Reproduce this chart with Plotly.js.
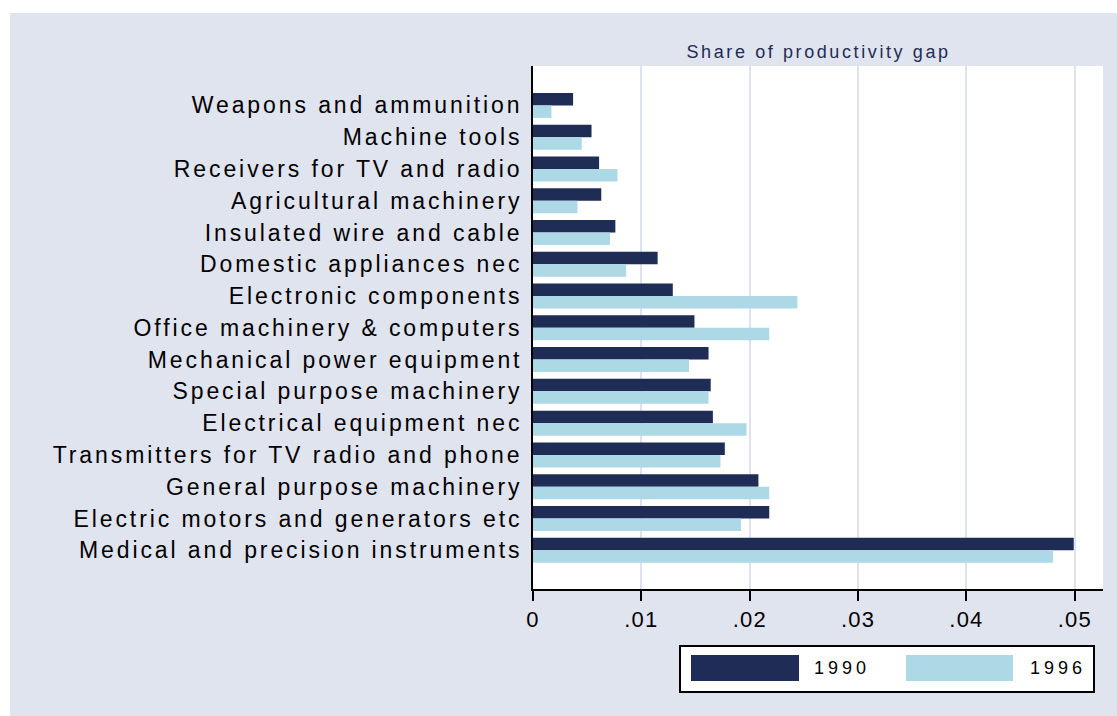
<!DOCTYPE html>
<html>
<head>
<meta charset="utf-8">
<script src="https://cdn.plot.ly/plotly-3.0.1.min.js"></script>
<style>
  html, body { margin: 0; padding: 0; background: #ffffff; }
  #chart { position: absolute; left: 10px; top: 13px; width: 1107px; height: 703px; }
  #chart .ytick text { letter-spacing: 2.9px; }
  #chart .xtick text { letter-spacing: 1.2px; }
  #chart .annotation[data-index="0"] text { letter-spacing: 2.6px; }
  #chart .annotation[data-index="1"] text,
  #chart .annotation[data-index="2"] text { letter-spacing: 4px; }
</style>
</head>
<body>
<div id="chart"></div>
<script>
// ---- data ----
const categories = [
  "Weapons and ammunition",
  "Machine tools",
  "Receivers for TV and radio",
  "Agricultural machinery",
  "Insulated wire and cable",
  "Domestic appliances nec",
  "Electronic components",
  "Office machinery & computers",
  "Mechanical power equipment",
  "Special purpose machinery",
  "Electrical equipment nec",
  "Transmitters for TV radio and phone",
  "General purpose machinery",
  "Electric motors and generators etc",
  "Medical and precision instruments"
];
const values1990 = [0.0037, 0.0054, 0.0061, 0.0063, 0.0076, 0.0115, 0.0129, 0.0149, 0.0162, 0.0164, 0.0166, 0.0177, 0.0208, 0.0218, 0.0499];
const values1996 = [0.0017, 0.0045, 0.0078, 0.0041, 0.0071, 0.0086, 0.0244, 0.0218, 0.0144, 0.0162, 0.0197, 0.0173, 0.0218, 0.0192, 0.0480];
const seriesNames = ["1990", "1996"];
const xTickVals = [0, 0.01, 0.02, 0.03, 0.04, 0.05];
const xTickText = ["0", ".01", ".02", ".03", ".04", ".05"];
const axisTitle = "Share of productivity gap";

// ---- style ----
const NAVY = "#1f2c55";
const LIGHT = "#add8e6";
const BG = "#e0e4ef";
const GRID = "#dde2ee";
const FONT = "Liberation Sans, Arial, Helvetica, sans-serif";

const traces = [
  { type: "bar", orientation: "h", name: seriesNames[0], y: categories, x: values1990,
    marker: { color: NAVY, line: { width: 0 } }, hoverinfo: "x+y" },
  { type: "bar", orientation: "h", name: seriesNames[1], y: categories, x: values1996,
    marker: { color: LIGHT, line: { width: 0 } }, hoverinfo: "x+y" }
];

const layout = {
  width: 1107, height: 703,
  margin: { l: 523, r: 14, t: 53, b: 127, pad: 0 },
  paper_bgcolor: BG,
  plot_bgcolor: "#ffffff",
  showlegend: false,
  barmode: "group",
  bargap: 0.213,
  bargroupgap: 0,
  font: { family: FONT, color: "#000000" },
  xaxis: {
    range: [0, 0.0526],
    tickvals: xTickVals, ticktext: xTickText,
    ticks: "outside", ticklen: 10, tickwidth: 2, tickcolor: "#000000",
    tickfont: { size: 22, family: FONT, color: "#000000" },
    showgrid: true, gridcolor: GRID, gridwidth: 2,
    zeroline: false,
    showline: true, linecolor: "#000000", linewidth: 2,
    mirror: false, fixedrange: true
  },
  yaxis: {
    type: "category",
    range: [15.22, -1.24],
    ticks: "", showgrid: false, zeroline: false,
    showline: true, linecolor: "#000000", linewidth: 2,
    ticklabelstandoff: 4,
    tickfont: { size: 23, family: FONT, color: "#000000" },
    fixedrange: true
  },
  annotations: [
    { xref: "paper", yref: "paper", x: 0.5, y: 1.0268, xanchor: "center", yanchor: "middle",
      text: axisTitle, showarrow: false, font: { size: 18, family: FONT, color: NAVY } },
    { xref: "paper", yref: "paper", x: 0.5035, y: -0.1511, xanchor: "left", yanchor: "middle",
      text: seriesNames[0], showarrow: false, font: { size: 18, family: FONT, color: "#000000" } },
    { xref: "paper", yref: "paper", x: 0.8825, y: -0.1511, xanchor: "left", yanchor: "middle",
      text: seriesNames[1], showarrow: false, font: { size: 18, family: FONT, color: "#000000" } }
  ],
  shapes: [
    { type: "rect", xref: "paper", yref: "paper", x0: 0.2579, x1: 0.9842, y0: -0.1969, y1: -0.1090,
      fillcolor: "#ffffff", line: { color: "#000000", width: 2 }, layer: "above" },
    { type: "rect", xref: "paper", yref: "paper", x0: 0.2772, x1: 0.4667, y0: -0.1759, y1: -0.1262,
      fillcolor: NAVY, line: { width: 0 }, layer: "above" },
    { type: "rect", xref: "paper", yref: "paper", x0: 0.6544, x1: 0.8421, y0: -0.1759, y1: -0.1262,
      fillcolor: LIGHT, line: { width: 0 }, layer: "above" }
  ]
};

Plotly.newPlot("chart", traces, layout, { displayModeBar: false, staticPlot: true });
</script>
</body>
</html>
